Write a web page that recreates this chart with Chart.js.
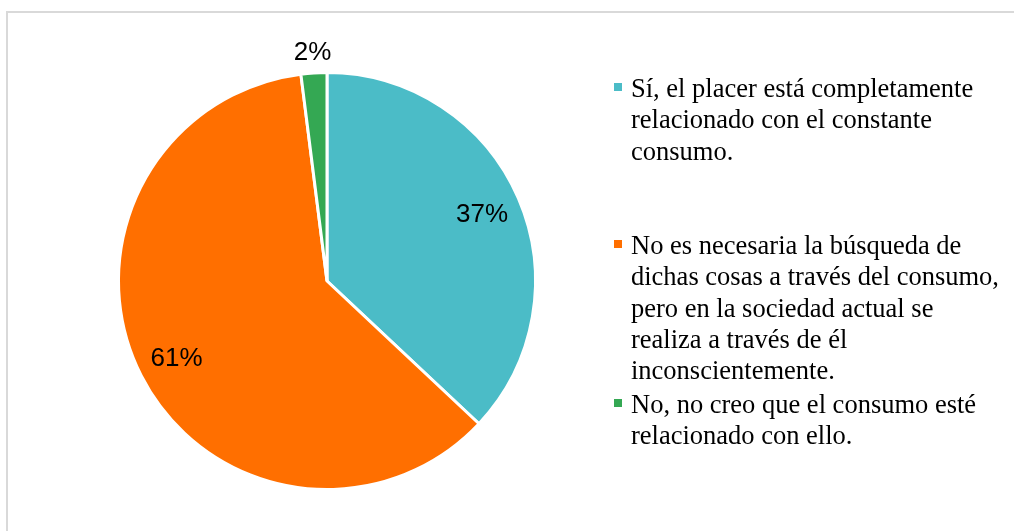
<!DOCTYPE html>
<html>
<head>
<meta charset="utf-8">
<script src="https://cdn.jsdelivr.net/npm/chart.js@4.4.0/dist/chart.umd.min.js"></script>
<style>
  html, body { margin: 0; padding: 0; background: #fff; }
  body { width: 1014px; height: 531px; position: relative; overflow: hidden; }
  #frame { position: absolute; left: 6px; top: 11px; width: 1100px; height: 600px;
           border: 2px solid #d9d9d9; box-sizing: border-box; }
  #wrap { position: absolute; left: 0; top: 0; width: 1014px; height: 531px; }
  .item { position: absolute; left: 631px; font-family: "Liberation Serif", "Times New Roman", serif;
          font-size: 26.5px; line-height: 31.3px; color: #000; white-space: nowrap; }
  .item .box { position: absolute; left: -17px; top: 10px; width: 8px; height: 8px; }
</style>
</head>
<body>
<div id="frame"></div>
<div id="wrap"><canvas id="pie"></canvas></div>
<div id="legend"></div>
<script>
// categories (each one split in the lines shown in the legend)
var categories = [
    ['Sí, el placer está completamente', 'relacionado con el constante', 'consumo.'],
    ['No es necesaria la búsqueda de', 'dichas cosas a través del consumo,', 'pero en la sociedad actual se', 'realiza a través de él', 'inconscientemente.'],
    ['No, no creo que el consumo esté', 'relacionado con ello.']
];
var percentages = [37, 61, 2];
var colors = ['#4BBCC7', '#FF6F00', '#34A853'];

// legend (top of each item, px)
var legendTops = [73, 230, 389];
var legend = document.getElementById('legend');
categories.forEach(function (lines, i) {
    var d = document.createElement('div');
    d.className = 'item';
    d.style.top = legendTops[i] + 'px';
    d.innerHTML = '<span class="box" style="background:' + colors[i] + '"></span>' + lines.join('<br>');
    legend.appendChild(d);
});

// percentage labels drawn at the arcs
var pctLabels = {
    id: 'pctLabels',
    afterDatasetsDraw: function (chart) {
        var ctx = chart.ctx;
        var meta = chart.getDatasetMeta(0);
        ctx.save();
        ctx.font = '26px "Liberation Sans", Arial, sans-serif';
        ctx.fillStyle = '#000';
        ctx.textAlign = 'center';
        ctx.textBaseline = 'middle';
        meta.data.forEach(function (arc, i) {
            var mid = (arc.startAngle + arc.endAngle) / 2;
            var f = percentages[i] < 5 ? 1.1 : 0.81;
            var x = arc.x + Math.cos(mid) * arc.outerRadius * f;
            var y = arc.y + Math.sin(mid) * arc.outerRadius * f;
            ctx.fillText(percentages[i] + '%', x, y + 1);
        });
        ctx.restore();
    }
};

var ctx = document.getElementById('pie').getContext('2d');
var myChart = new Chart(ctx, {
    type: 'pie',
    data: {
        labels: categories,
        datasets: [{
            data: percentages,
            backgroundColor: colors,
            borderColor: '#ffffff',
            borderWidth: 3
        }]
    },
    options: {
        responsive: true,
        maintainAspectRatio: false,
        animation: false,
        layout: { padding: { left: 117, right: 477, top: 71, bottom: 40 } },
        plugins: {
            legend: { display: false },
            tooltip: { enabled: false }
        }
    },
    plugins: [pctLabels]
});
</script>
</body>
</html>
